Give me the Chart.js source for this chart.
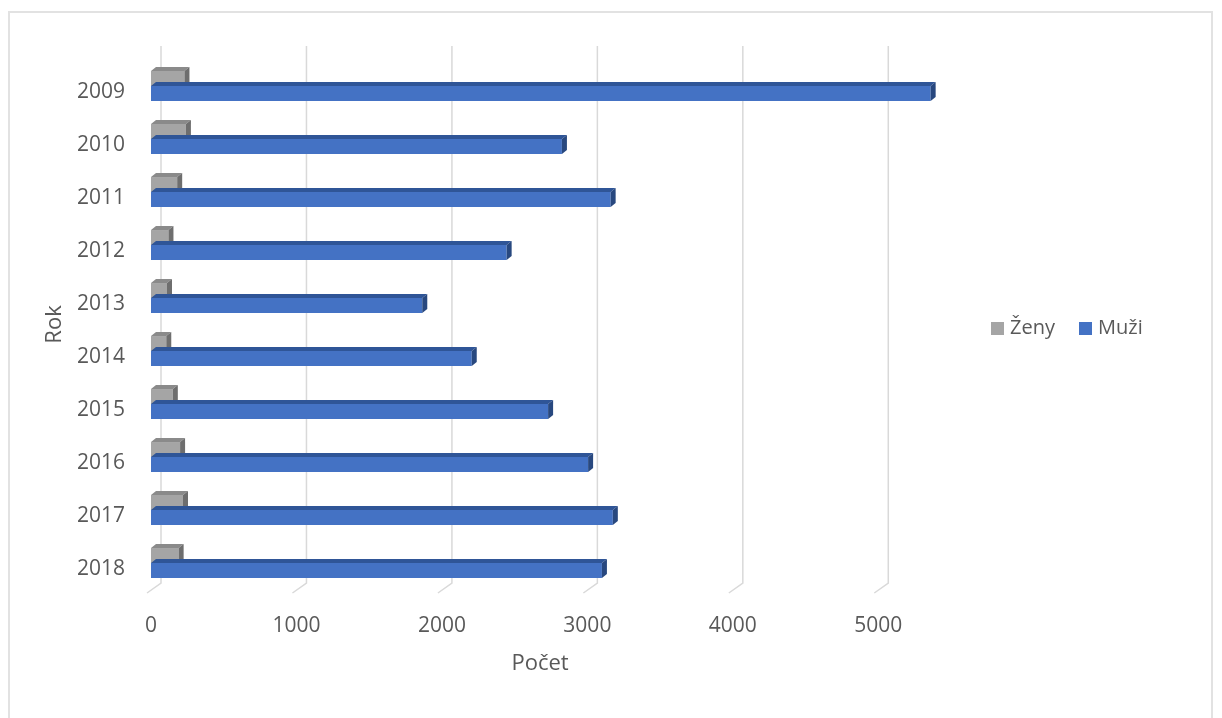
<!DOCTYPE html>
<html><head><meta charset="utf-8">
<script src="https://cdn.jsdelivr.net/npm/chart.js@4/dist/chart.umd.min.js"></script>
<style>
html,body{margin:0;padding:0;background:#fff;overflow:hidden}
#wrap{position:relative;width:1222px;height:718px}
#frame{position:absolute;left:8px;top:11px;width:1205px;height:720px;border:2px solid #e2e2e2;pointer-events:none;box-sizing:border-box}
.lg{position:absolute;top:315px;display:flex;align-items:flex-start;font:20px 'Open Sans',sans-serif;line-height:24px;color:#595959;white-space:nowrap}
.lg span.sw{display:inline-block;width:13px;height:13px;margin-top:7px;margin-right:6px}
</style></head>
<body><div id="wrap"><canvas id="c" width="1222" height="718"></canvas><div id="frame"></div><div id="legend"></div></div>
<script>
const categories = ['2009','2010','2011','2012','2013','2014','2015','2016','2017','2018'];
const zenyValues = [230, 240, 180, 120, 110, 105, 150, 200, 220, 190];
const muziValues = [5360, 2825, 3160, 2445, 1865, 2205, 2730, 3005, 3175, 3100];
const seriesNames = ['Ženy', 'Muži'];
const xTickValues = [0, 1000, 2000, 3000, 4000, 5000];
const xTitle = 'Počet';
const yTitle = 'Rok';

const frontColors = ['#A5A5A5', '#4472C4'];
const topColors = ['#8A8A8A', '#2F5597'];
const sideColors = ['#6E6E6E', '#28487F'];
const TEXT = '#595959';

Chart.defaults.font.family = "'Open Sans', sans-serif";

const gridPlugin = {
  id: 'grid3d',
  beforeDatasetsDraw(chart) {
    const ctx = chart.ctx, xs = chart.scales.x, a = chart.chartArea;
    ctx.save();
    ctx.strokeStyle = '#d9d9d9';
    ctx.lineWidth = 1.5;
    xTickValues.forEach(v => {
      const px = xs.getPixelForValue(v);
      ctx.beginPath();
      ctx.moveTo(px + 10, a.top - 13.5);
      ctx.lineTo(px + 10, a.bottom - 6.5);
      ctx.lineTo(px - 4, a.bottom + 3.5);
      ctx.stroke();
    });
    ctx.restore();
  }
};

const barsPlugin = {
  id: 'bars3d',
  afterDatasetsDraw(chart) {
    const ctx = chart.ctx;
    const dx = 5, dy = -4;
    ctx.save();
    [0, 1].forEach(di => {
      const meta = chart.getDatasetMeta(di);
      meta.data.forEach(bar => {
        const p = bar.getProps(['x', 'y', 'base', 'height'], true);
        const top = p.y - p.height / 2, bot = p.y + p.height / 2;
        const left = Math.min(p.base, p.x), right = Math.max(p.base, p.x);
        ctx.fillStyle = topColors[di];
        ctx.beginPath();
        ctx.moveTo(left, top); ctx.lineTo(left + dx, top + dy);
        ctx.lineTo(right + dx, top + dy); ctx.lineTo(right, top);
        ctx.closePath(); ctx.fill();
        ctx.fillStyle = sideColors[di];
        ctx.beginPath();
        ctx.moveTo(right, top); ctx.lineTo(right + dx, top + dy);
        ctx.lineTo(right + dx, bot + dy); ctx.lineTo(right, bot);
        ctx.closePath(); ctx.fill();
      });
    });
    ctx.restore();
  }
};

const chart = new Chart(document.getElementById('c'), {
  type: 'bar',
  data: {
    labels: categories,
    datasets: [
      { label: seriesNames[0], data: zenyValues, backgroundColor: frontColors[0], borderWidth: 0, categoryPercentage: 0.565, barPercentage: 1, clip: false },
      { label: seriesNames[1], data: muziValues, backgroundColor: frontColors[1], borderWidth: 0, categoryPercentage: 0.565, barPercentage: 1, clip: false }
    ]
  },
  options: {
    indexAxis: 'y',
    responsive: false,
    animation: false,
    devicePixelRatio: 1,
    layout: { padding: { left: 38, top: 59.5, right: 292.8, bottom: 41 } },
    plugins: { legend: { display: false }, tooltip: { enabled: false } },
    scales: {
      x: {
        type: 'linear', min: 0, max: 5350,
        grid: { display: false, drawTicks: false },
        border: { display: false },
        afterBuildTicks: s => { s.ticks = xTickValues.map(v => ({ value: v })); },
        ticks: {
          autoSkip: false, maxRotation: 0, minRotation: 0, padding: 24,
          color: TEXT, font: { size: 21 },
          callback: v => String(v)
        },
        title: { display: true, text: xTitle, color: TEXT, font: { size: 22 }, padding: 0 },
        afterFit: s => { s.height = 87.5; }
      },
      y: {
        type: 'category',
        grid: { display: false, drawTicks: false },
        border: { display: false },
        ticks: { padding: 26, labelOffset: 6, color: TEXT, font: { size: 21 } },
        title: { display: true, text: yTitle, color: TEXT, font: { size: 22 }, padding: 4 },
        afterFit: s => { s.width = 113; }
      }
    }
  },
  plugins: [gridPlugin, barsPlugin]
});

// HTML legend built from the chart's datasets
const legendLefts = [991, 1079];
const lg = document.getElementById('legend');
chart.data.datasets.forEach((ds, i) => {
  const item = document.createElement('div');
  item.className = 'lg';
  item.style.left = legendLefts[i] + 'px';
  const sw = document.createElement('span');
  sw.className = 'sw';
  sw.style.background = ds.backgroundColor;
  const t = document.createElement('span');
  t.textContent = ds.label;
  item.appendChild(sw); item.appendChild(t);
  lg.appendChild(item);
});
</script>
</body></html>
